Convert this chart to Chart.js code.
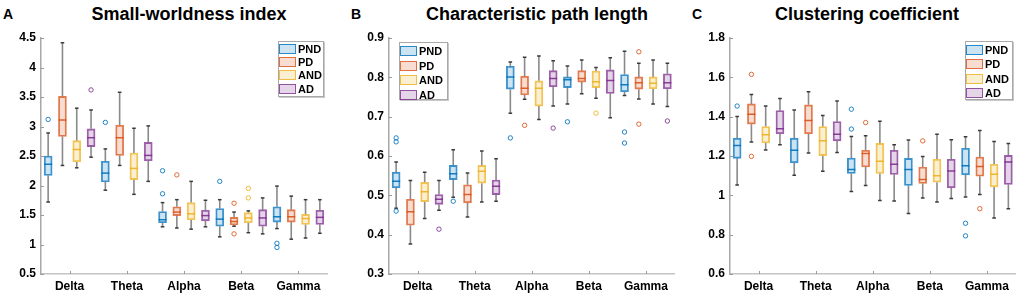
<!DOCTYPE html>
<meta charset="utf-8">
<html>
  <head>
    <script src="https://cdn.jsdelivr.net/npm/chart.js"></script>
    <style>
      body { margin: 0; background: #fff; font-family: 'Liberation Sans', Arial, sans-serif; }
      #page { position: relative; width: 1021px; height: 298px; overflow: hidden; }
      canvas { position: absolute; top: 0; }
      .title { position: absolute; width: 320px; text-align: center; font-weight: bold; font-size: 18px; line-height: 18px; top: 5px; }
      .letter { position: absolute; font-weight: bold; font-size: 14px; line-height: 14px; top: 7px; }
      .legend { position: absolute; border: 1px solid #a8a8a8; box-shadow: 1px 1px 0 #c8c8c8; background: #fff; box-sizing: border-box; }
      .legend .row { position: relative; font-weight: bold; font-size: 11px; }
      .legend .sw { position: absolute; top: 50%; height: 10px; margin-top: -5px; box-sizing: border-box; border: 1px solid; }
      .legend .lab { position: absolute; top: 50%; transform: translateY(-52%); }
    </style>
  </head>
  <body>
    <div id="page">
      <div class="letter" style="left: 3px">A</div>
      <div class="letter" style="left: 351px">B</div>
      <div class="letter" style="left: 692px">C</div>
      <div class="title" style="left: 29px">Small-worldness index</div>
      <div class="title" style="left: 377px">Characteristic path length</div>
      <div class="title" style="left: 707px">Clustering coefficient</div>
      <canvas id="chart-a" width="340" height="298" style="left: 0px"></canvas>
      <canvas id="chart-b" width="340" height="298" style="left: 340px"></canvas>
      <canvas id="chart-c" width="341" height="298" style="left: 680px"></canvas>
    </div>
  </body>

  <script>
    const groups = ['Delta', 'Theta', 'Alpha', 'Beta', 'Gamma'];
    const subjects = ['PND', 'PD', 'AND', 'AD'];
    const groupTicks = [2.5, 6.5, 10.5, 14.5, 18.5];
    const subjectRgb = ['0,114,189', '217,83,25', '237,177,32', '126,47,142'];

    // A: small-worldness index (box order: Delta PND, PD, AND, AD, Theta ..., Gamma AD)
    const swLow  = [1.72, 2.34, 2.30, 2.48, 1.92, 2.34, 1.85, 2.07, 1.30, 1.28, 1.26, 1.30, 1.13, 1.31, 1.20, 1.18, 1.27, 1.09, 1.11, 1.19];
    const swQ1   = [2.17, 2.83, 2.40, 2.66, 2.06, 2.51, 2.10, 2.42, 1.37, 1.49, 1.42, 1.40, 1.31, 1.33, 1.37, 1.31, 1.38, 1.38, 1.34, 1.34];
    const swMed  = [2.36, 3.11, 2.61, 2.81, 2.21, 2.81, 2.29, 2.51, 1.42, 1.55, 1.52, 1.49, 1.43, 1.39, 1.45, 1.45, 1.47, 1.47, 1.44, 1.46];
    const swQ3   = [2.50, 3.51, 2.76, 2.96, 2.41, 3.02, 2.55, 2.73, 1.56, 1.64, 1.71, 1.58, 1.61, 1.46, 1.54, 1.59, 1.64, 1.59, 1.51, 1.58];
    const swHigh = [2.89, 4.42, 3.31, 3.28, 2.62, 3.58, 2.97, 3.01, 1.71, 1.76, 2.07, 1.75, 1.76, 1.55, 1.57, 1.79, 1.99, 1.82, 1.76, 1.76];
    const swOut  = [[3.12], [], [], [3.62], [3.07], [], [], [], [2.25, 1.86], [2.18], [], [], [2.07], [1.70, 1.18], [1.95, 1.79], [], [1.02, 0.95], [], [], []];

    // B: characteristic path length
    const cpLow  = [0.467, 0.376, 0.441, 0.462, 0.495, 0.445, 0.483, 0.485, 0.709, 0.744, 0.693, 0.727, 0.732, 0.758, 0.747, 0.697, 0.754, 0.745, 0.732, 0.726];
    const cpQ1   = [0.519, 0.424, 0.484, 0.477, 0.540, 0.481, 0.531, 0.502, 0.770, 0.755, 0.727, 0.776, 0.774, 0.788, 0.774, 0.759, 0.763, 0.770, 0.771, 0.771];
    const cpMed  = [0.536, 0.458, 0.509, 0.490, 0.555, 0.502, 0.561, 0.523, 0.801, 0.772, 0.772, 0.797, 0.794, 0.797, 0.789, 0.792, 0.781, 0.786, 0.785, 0.786];
    const cpQ3   = [0.559, 0.490, 0.533, 0.502, 0.576, 0.527, 0.576, 0.539, 0.828, 0.803, 0.791, 0.817, 0.801, 0.817, 0.816, 0.819, 0.807, 0.801, 0.801, 0.809];
    const cpHigh = [0.585, 0.538, 0.559, 0.538, 0.616, 0.557, 0.613, 0.593, 0.839, 0.851, 0.854, 0.842, 0.829, 0.844, 0.825, 0.850, 0.866, 0.836, 0.844, 0.836];
    const cpOut  = [[0.646, 0.636, 0.460], [], [], [0.414], [0.485], [], [], [], [0.646], [0.678], [], [0.671], [0.687], [], [0.709], [], [0.661, 0.633], [0.865, 0.681], [], [0.689]];

    // C: clustering coefficient
    const ccLow  = [1.053, 1.271, 1.230, 1.257, 1.102, 1.215, 1.122, 1.218, 1.020, 1.050, 0.974, 0.971, 0.908, 0.986, 0.966, 0.984, 0.991, 1.004, 0.885, 0.932];
    const ccQ1   = [1.188, 1.362, 1.266, 1.313, 1.165, 1.313, 1.202, 1.277, 1.111, 1.144, 1.111, 1.106, 1.050, 1.060, 1.067, 1.038, 1.104, 1.097, 1.043, 1.055];
    const ccMed  = [1.254, 1.412, 1.308, 1.338, 1.229, 1.380, 1.277, 1.311, 1.131, 1.213, 1.173, 1.158, 1.131, 1.080, 1.100, 1.124, 1.151, 1.146, 1.107, 1.170];
    const ccQ3   = [1.291, 1.465, 1.350, 1.431, 1.291, 1.460, 1.350, 1.375, 1.190, 1.229, 1.264, 1.229, 1.188, 1.144, 1.183, 1.183, 1.239, 1.195, 1.158, 1.203];
    const ccHigh = [1.401, 1.513, 1.454, 1.493, 1.434, 1.527, 1.406, 1.480, 1.299, 1.303, 1.377, 1.257, 1.281, 1.198, 1.310, 1.283, 1.298, 1.330, 1.274, 1.264];
    const ccOut  = [[1.454], [1.615, 1.198], [], [], [], [], [], [], [1.438, 1.337], [1.370], [], [], [], [1.277], [], [], [0.858, 0.794], [0.932], [], []];

    function colorOf(i, alpha) {
      return `rgba(${subjectRgb[i % 4]},${alpha})`;
    }

    // small inward ticks like matlab axes
    const innerTicks = {
      id: 'innerTicks',
      afterDraw(chart) {
        const ctx = chart.ctx;
        const area = chart.chartArea;
        ctx.save();
        ctx.strokeStyle = '#9a9a9a';
        ctx.lineWidth = 1;
        for (const t of chart.scales.y.ticks) {
          const y = Math.round(chart.scales.y.getPixelForValue(t.value)) + 0.5;
          ctx.beginPath(); ctx.moveTo(area.left, y); ctx.lineTo(area.left + 3, y); ctx.stroke();
        }
        for (const t of chart.scales.x.ticks) {
          const x = Math.round(chart.scales.x.getPixelForValue(t.value)) + 0.5;
          ctx.beginPath(); ctx.moveTo(x, area.bottom); ctx.lineTo(x, area.bottom - 3); ctx.stroke();
        }
        ctx.restore();
      }
    };

    function buildPanel(canvasId, low, q1, med, q3, high, out, yMin, yMax, yStep, yWidth, padRight) {
      const whiskers = [];
      const caps = [];
      const boxes = [];
      const medians = [];
      const outliers = [];
      const outColors = [];
      for (let i = 0; i < low.length; i++) {
        const x = i + 1;
        whiskers.push({x: x, y: low[i]}, {x: x, y: q1[i]}, {x: x, y: null});
        whiskers.push({x: x, y: q3[i]}, {x: x, y: high[i]}, {x: x, y: null});
        caps.push({x: x, y: low[i]}, {x: x, y: high[i]});
        boxes.push({x: x, y: [q1[i], q3[i]]});
        medians.push({x: x, y: med[i]});
        for (const v of out[i]) {
          outliers.push({x: x, y: v});
          outColors.push(colorOf(i, 0.85));
        }
      }
      const boxFill = boxes.map((b, i) => colorOf(i, 0.2));
      const boxLine = boxes.map((b, i) => colorOf(i, 0.75));
      const medLine = boxes.map((b, i) => colorOf(i, 0.9));

      const font = {family: "'Liberation Sans', Arial, sans-serif", size: 12, weight: 'bold'};

      return new Chart(document.getElementById(canvasId), {
        type: 'bar',
        data: {
          datasets: [
            {
              type: 'scatter', data: outliers, order: 1,
              pointStyle: 'circle', pointRadius: 2.2, pointBorderWidth: 1,
              pointBorderColor: outColors, pointBackgroundColor: 'rgba(255,255,255,0)'
            },
            {
              type: 'scatter', data: medians, order: 2,
              pointStyle: 'line', pointRadius: 4, pointBorderWidth: 1.5, pointBorderColor: medLine
            },
            {
              type: 'bar', data: boxes, order: 3,
              backgroundColor: boxFill, borderColor: boxLine, borderWidth: 1.2,
              borderSkipped: false, barThickness: 8
            },
            {
              type: 'scatter', data: caps, order: 4,
              pointStyle: 'line', pointRadius: 1.8, pointBorderWidth: 1.5, pointBorderColor: '#3a3a3a'
            },
            {
              type: 'line', data: whiskers, order: 5,
              borderColor: '#8a8a8a', borderWidth: 1.6, pointRadius: 0, spanGaps: false, fill: false
            }
          ]
        },
        options: {
          responsive: false,
          animation: false,
          layout: {padding: {top: 38, right: padRight, bottom: 0, left: 0}},
          plugins: {legend: {display: false}, tooltip: {enabled: false}},
          scales: {
            x: {
              type: 'linear', min: 0.5, max: 20.5, offset: false,
              grid: {display: false, drawTicks: false, offset: false},
              border: {display: true, color: '#c4c4c4', width: 1.5},
              afterBuildTicks: (scale) => { scale.ticks = groupTicks.map(v => ({value: v})); },
              afterFit: (scale) => { scale.height = 24; },
              ticks: {
                autoSkip: false, maxRotation: 0, padding: 5, color: '#000', font: font,
                callback: (v, i) => groups[i]
              }
            },
            y: {
              min: yMin, max: yMax,
              grid: {display: false, drawTicks: false},
              border: {display: true, color: '#a8a8a8', width: 1.5},
              afterFit: (scale) => { scale.width = yWidth; },
              ticks: {
                stepSize: yStep, padding: 5, color: '#000', font: font,
                callback: (v) => String(Number(v.toFixed(2)))
              }
            }
          }
        },
        plugins: [innerTicks]
      });
    }

    function buildLegend(left, top, width, height, rowH, padTop) {
      const box = document.createElement('div');
      box.className = 'legend';
      box.style.left = left + 'px';
      box.style.top = top + 'px';
      box.style.width = width + 'px';
      box.style.height = height + 'px';
      box.style.paddingTop = padTop + 'px';
      subjects.forEach((name, i) => {
        const row = document.createElement('div');
        row.className = 'row';
        row.style.height = rowH + 'px';
        const sw = document.createElement('span');
        sw.className = 'sw';
        sw.style.left = '0px';
        sw.style.width = '17px';
        sw.style.borderColor = `rgba(${subjectRgb[i]},0.8)`;
        sw.style.background = `rgba(${subjectRgb[i]},0.2)`;
        const lab = document.createElement('span');
        lab.className = 'lab';
        lab.style.left = '19px';
        lab.textContent = name;
        row.appendChild(sw);
        row.appendChild(lab);
        box.appendChild(row);
      });
      document.getElementById('page').appendChild(box);
    }

    buildPanel('chart-a', swLow, swQ1, swMed, swQ3, swHigh, swOut, 0.5, 4.5, 0.5, 41, 13);
    buildPanel('chart-b', cpLow, cpQ1, cpMed, cpQ3, cpHigh, cpOut, 0.3, 0.9, 0.1, 49, 4);
    buildPanel('chart-c', ccLow, ccQ1, ccMed, ccQ3, ccHigh, ccOut, 0.6, 1.8, 0.2, 50, 4);

    buildLegend(278, 41, 46, 56, 13.3, 0);
    buildLegend(399, 42, 49, 58, 14.5, 1);
    buildLegend(965, 41, 48, 59, 14.3, 1);
  </script>
</html>
